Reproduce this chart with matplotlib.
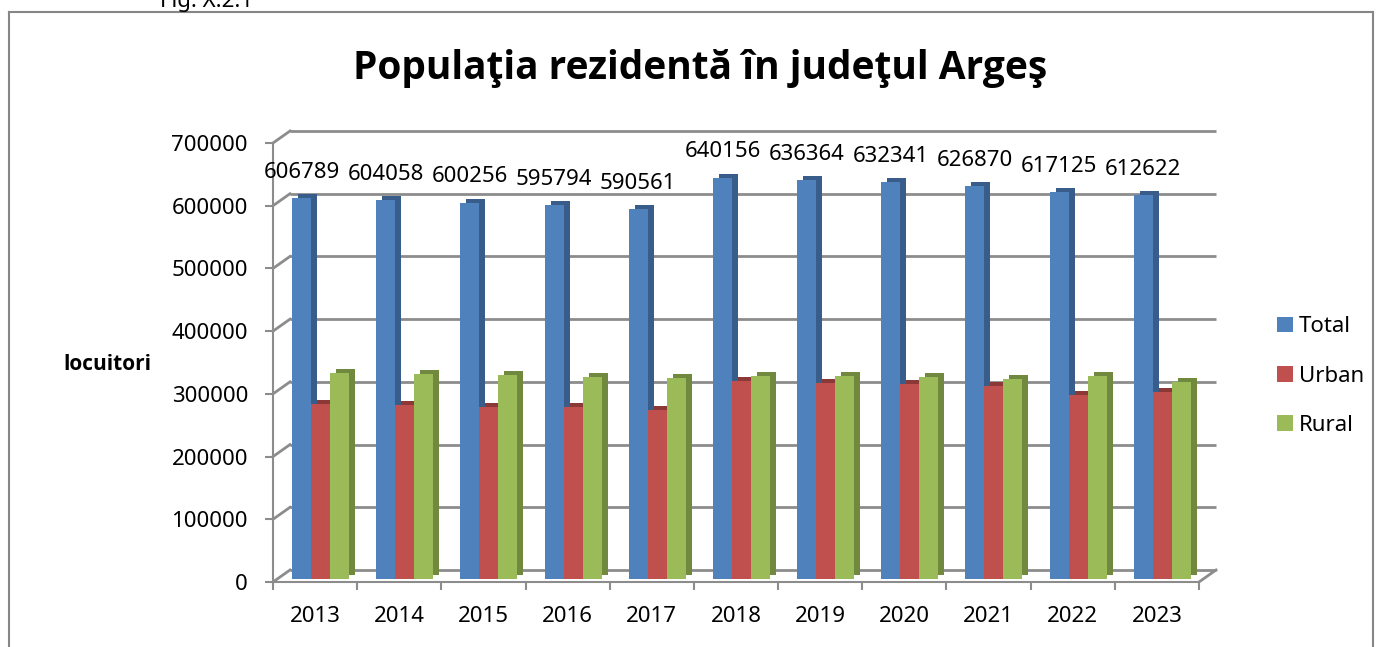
import matplotlib
matplotlib.use("Agg")
import matplotlib.pyplot as plt
from matplotlib.patches import Patch
from matplotlib.transforms import ScaledTranslation
import numpy as np

# data
years = ["2013", "2014", "2015", "2016", "2017", "2018", "2019", "2020", "2021", "2022", "2023"]
total = [606789, 604058, 600256, 595794, 590561, 640156, 636364, 632341, 626870, 617125, 612622]
urban = [279000, 277500, 275000, 273500, 270000, 316000, 312500, 311000, 307500, 293000, 298000]
rural = [327800, 326500, 325200, 322300, 320500, 324000, 323800, 321300, 319400, 324100, 314600]
series_names = ["Total", "Urban", "Rural"]
y_ticks = [0, 100000, 200000, 300000, 400000, 500000, 600000, 700000]

face_colors = ["#4F81BD", "#C0504D", "#9BBB59"]
side_colors = ["#385D8A", "#8C3836", "#71893F"]
grid_col = "#8C8C8C"

plt.rcParams['font.family'] = ['Noto Sans', 'DejaVu Sans']
bold_family = ['Open Sans', 'Lato', 'DejaVu Sans']

W, H = 1385, 647
fig = plt.figure(figsize=(W / 100, H / 100), dpi=100)

# plot area (front plane)
ax_l, ax_r, ax_b, ax_t = 273, 1199, 582, 143
ax = fig.add_axes([ax_l / W, (H - ax_b) / H, (ax_r - ax_l) / W, (ax_b - ax_t) / H])
n = len(years)
ax.set_xlim(-0.5, n - 0.5)
ax.set_ylim(0, 700000)

# depth of the back wall, in data units
px_x = (ax_r - ax_l) / n
px_y = (ax_b - ax_t) / 700000
dx = 17 / px_x
dy = 12 / px_y

# back wall gridlines + diagonals from the front axis
for t in y_ticks:
    ax.plot([-0.5 + dx, n - 0.5 + dx], [t + dy, t + dy], color=grid_col, lw=2,
            zorder=1, clip_on=False, solid_capstyle='butt')
    ax.plot([-0.5, -0.5 + dx], [t, t + dy], color=grid_col, lw=2, zorder=1, clip_on=False)
ax.plot([n - 0.5, n - 0.5 + dx], [0, dy], color=grid_col, lw=2, zorder=1, clip_on=False)

# bars with a little depth (sitting slightly behind the front edge)
x = np.arange(n)
bw = 19 / px_x
offsets = [-0.5 + bw * 1.0 + bw / 2, -0.5 + bw * 2.0 + bw / 2, -0.5 + bw * 3.0 + bw / 2]
front = ax.transData + ScaledTranslation(0, 3 / 100, fig.dpi_scale_trans)
side = ax.transData + ScaledTranslation(6 / 100, 7 / 100, fig.dpi_scale_trans)
for k, vals in enumerate([total, urban, rural]):
    ax.bar(x + offsets[k], vals, width=bw, color=side_colors[k], zorder=2,
           transform=side, linewidth=0)
for k, vals in enumerate([total, urban, rural]):
    ax.bar(x + offsets[k], vals, width=bw, color=face_colors[k], zorder=3,
           transform=front, linewidth=0)

# value labels on Total
for xi, v in zip(x, total):
    ax.annotate(str(v), (xi + offsets[0], v), xytext=(0, 13), textcoords='offset points',
                ha='center', va='bottom', fontsize=16, zorder=5)

# axes styling
for s in ["top", "right"]:
    ax.spines[s].set_visible(False)
for s in ["left", "bottom"]:
    ax.spines[s].set_color(grid_col)
    ax.spines[s].set_linewidth(1.5)
ax.set_facecolor("none")
ax.set_yticks(y_ticks)
ax.set_yticklabels([str(t) for t in y_ticks])
ax.tick_params(axis='y', length=6, width=1.5, color=grid_col, pad=12, labelsize=16)
ax.set_xticks(np.arange(n + 1) - 0.5)
ax.set_xticklabels([])
ax.set_xticks(x, minor=True)
ax.set_xticklabels(years, minor=True)
ax.tick_params(axis='x', which='major', length=6, width=1.5, color=grid_col)
ax.tick_params(axis='x', which='minor', length=0, pad=17, labelsize=16)

# texts
fig.text(700 / W, 1 - 68 / H, "Populaţia rezidentă în judeţul Argeş", ha='center', va='center',
         fontsize=28, weight='bold', family=bold_family)
fig.text(107 / W, 1 - 365 / H, "locuitori", ha='center', va='center', fontsize=15,
         weight='bold', family=bold_family)
fig.text(207 / W, 1 - 2 / H, "Fig. X.2.1", ha='center', va='center', fontsize=16)

# legend
handles = [Patch(facecolor=c) for c in face_colors]
fig.legend(handles, series_names, loc='center left', bbox_to_anchor=(1277 / W, 1 - 376 / H),
           frameon=False, fontsize=16, handlelength=0.7, handleheight=0.7,
           handletextpad=0.3, labelspacing=1.28, borderpad=0, borderaxespad=0)

# chart border
fig.add_artist(plt.Line2D([9 / W, 9 / W], [0, 1 - 12 / H], color="#868686", lw=1.5,
                          transform=fig.transFigure))
fig.add_artist(plt.Line2D([9 / W, 1373 / W], [1 - 12 / H, 1 - 12 / H], color="#868686", lw=1.5,
                          transform=fig.transFigure))
fig.add_artist(plt.Line2D([1373 / W, 1373 / W], [0, 1 - 12 / H], color="#868686", lw=1.5,
                          transform=fig.transFigure))

fig.savefig("out.png", dpi=100)
